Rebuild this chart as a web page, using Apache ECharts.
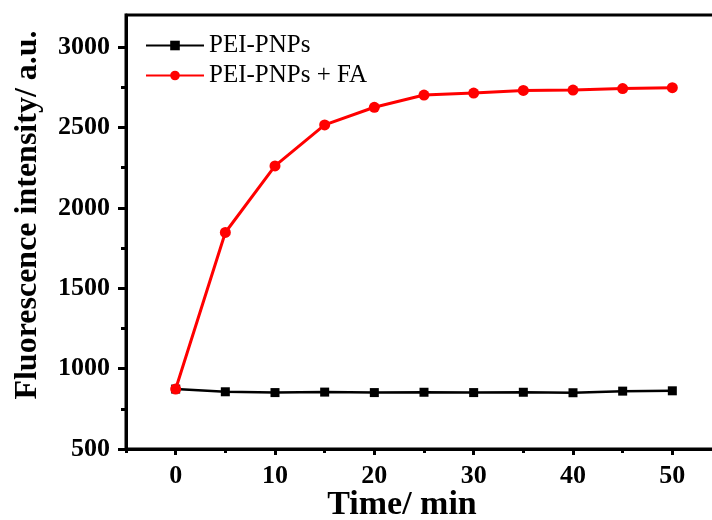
<!DOCTYPE html>
<html>
<head>
<meta charset="utf-8">
<script src="https://cdn.jsdelivr.net/npm/echarts@6/dist/echarts.min.js"></script>
<style>
  html, body { margin: 0; padding: 0; background: #fff; }
  #chart { width: 712px; height: 520px; }
</style>
</head>
<body>
<div id="chart"></div>
<script>
// Reaction time (min)
const times = [0, 5, 10, 15, 20, 25, 30, 35, 40, 45, 50];
// Fluorescence intensity (a.u.)
const peiPnps = [873, 856, 851, 854, 851, 853, 851, 853, 850, 860, 862];
const peiPnpsFa = [873, 1847, 2261, 2516, 2626, 2702, 2714, 2731, 2733, 2742, 2748];

const seriesNames = ['PEI-PNPs', 'PEI-PNPs + FA'];

// Axis ticks
const xMajorTicks = [0, 10, 20, 30, 40, 50];
const xMinorTicks = [-5, 5, 15, 25, 35, 45, 55];
const yMajorTicks = [500, 1000, 1500, 2000, 2500, 3000];
const yMinorTicks = [750, 1250, 1750, 2250, 2750];

const FONT = 'Liberation Serif';

const pairs = (ys) => times.map((t, i) => [t, ys[i]]);
const plain = (v) => String(v);

const chart = echarts.init(document.getElementById('chart'), null, { renderer: 'canvas' });

const baseX = {
  type: 'value', min: -5, max: 55,
  splitLine: { show: false },
  axisLine: { show: false, onZero: false }
};
const baseY = {
  type: 'value', min: 500, max: 3200,
  splitLine: { show: false },
  axisLine: { show: false, onZero: false }
};

chart.setOption({
  animation: false,
  backgroundColor: '#fff',
  grid: {
    left: 126, top: 15, right: -10, bottom: 71,
    outerBoundsMode: 'none',
    show: true, borderColor: '#000', borderWidth: 3, backgroundColor: 'transparent'
  },
  legend: {
    orient: 'vertical',
    left: 145, top: 33, padding: 0,
    itemWidth: 58, itemHeight: 12, itemGap: 5,
    textStyle: { fontFamily: FONT, fontSize: 25, color: '#000' },
    data: seriesNames
  },
  xAxis: [
    Object.assign({}, baseX, {
      position: 'bottom',
      axisLine: { show: true, onZero: false, lineStyle: { color: '#000', width: 3 } },
      axisTick: { show: true, customValues: xMajorTicks, length: 6, lineStyle: { color: '#000', width: 3 } },
      axisLabel: {
        customValues: xMajorTicks, margin: 14, formatter: plain,
        fontFamily: FONT, fontSize: 26, fontWeight: 'bold', color: '#000'
      },
      name: 'Time/ min', nameLocation: 'middle', nameGap: 39, nameMoveOverlap: false,
      nameTextStyle: { fontFamily: FONT, fontSize: 34, fontWeight: 'bold', color: '#000', padding: [0, 44, 0, 0] }
    }),
    Object.assign({}, baseX, {
      position: 'bottom',
      axisTick: { show: true, customValues: xMinorTicks, length: 4, lineStyle: { color: '#000', width: 3 } },
      axisLabel: { show: false }
    })
  ],
  yAxis: [
    Object.assign({}, baseY, {
      position: 'left',
      axisLine: { show: true, onZero: false, lineStyle: { color: '#000', width: 3 } },
      axisTick: { show: true, customValues: yMajorTicks, length: 8, lineStyle: { color: '#000', width: 3 } },
      axisLabel: {
        customValues: yMajorTicks, margin: 16, formatter: plain,
        fontFamily: FONT, fontSize: 26, fontWeight: 'bold', color: '#000'
      },
      name: 'Fluorescence intensity/ a.u.', nameLocation: 'middle', nameGap: 82, nameMoveOverlap: false,
      nameTextStyle: { fontFamily: FONT, fontSize: 32, fontWeight: 'bold', color: '#000', padding: [0, 0, 0, 34] }
    }),
    Object.assign({}, baseY, {
      position: 'left',
      axisTick: { show: true, customValues: yMinorTicks, length: 5, lineStyle: { color: '#000', width: 3 } },
      axisLabel: { show: false }
    })
  ],
  series: [
    {
      name: seriesNames[0], type: 'line',
      data: pairs(peiPnps),
      symbol: 'rect', symbolSize: 9,
      lineStyle: { color: '#000', width: 2.5 },
      itemStyle: { color: '#000' },
      z: 2
    },
    {
      name: seriesNames[1], type: 'line',
      data: pairs(peiPnpsFa),
      symbol: 'circle', symbolSize: 11,
      lineStyle: { color: '#ff0000', width: 3 },
      itemStyle: { color: '#ff0000' },
      z: 3
    }
  ]
});
</script>
</body>
</html>
